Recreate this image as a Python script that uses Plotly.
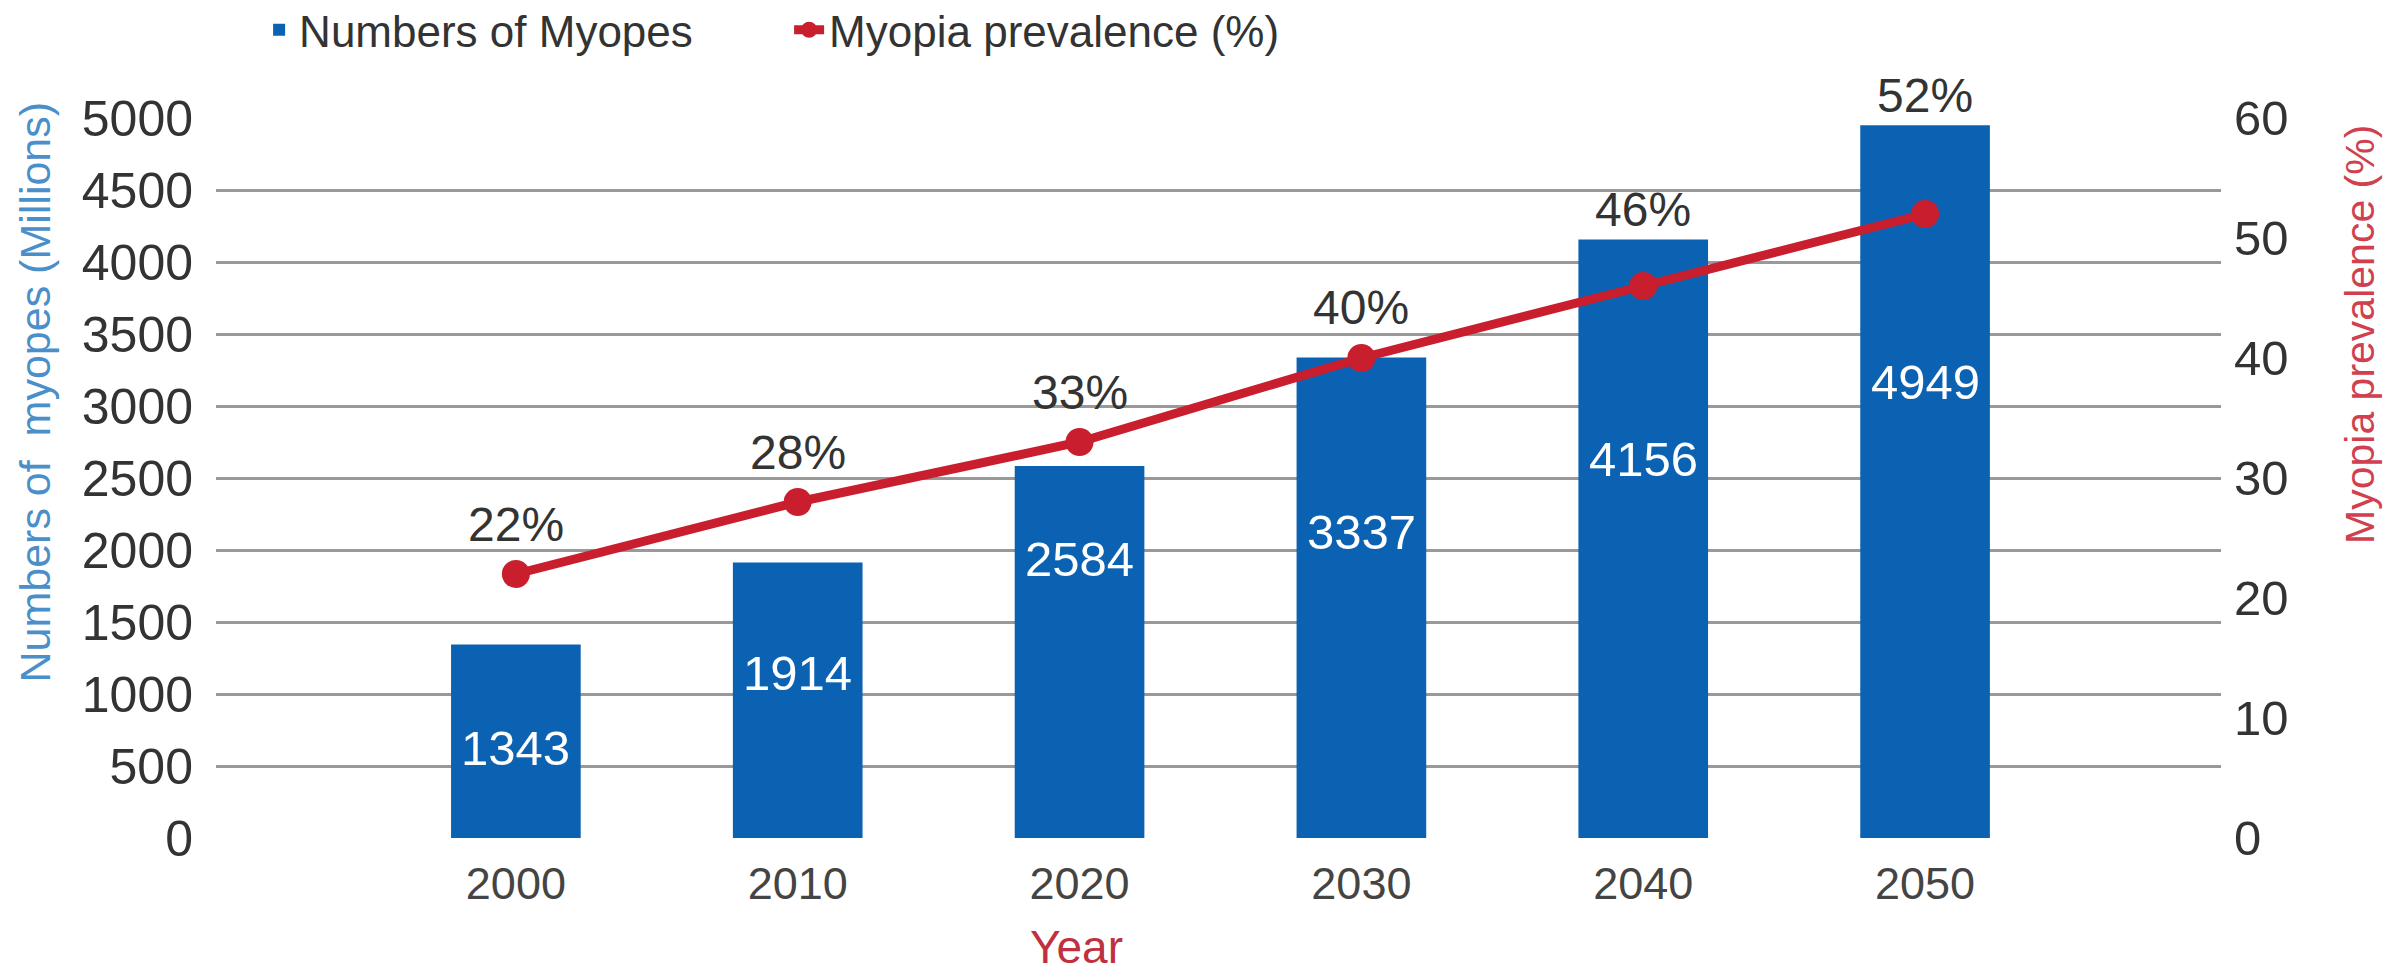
import plotly.graph_objects as go

# ---- data ----
years = ["2000", "2010", "2020", "2030", "2040", "2050"]
myopes_millions = [1343, 1914, 2584, 3337, 4156, 4949]
prevalence_pct = [22, 28, 33, 40, 46, 52]
y_ticks = [0, 500, 1000, 1500, 2000, 2500, 3000, 3500, 4000, 4500, 5000]
y2_ticks = [0, 10, 20, 30, 40, 50, 60]

# label placement inside bars (fraction of bar height)
bar_label_frac = [0.466, 0.60, 0.75, 0.636, 0.633, 0.64]

BLUE = "#0C62B2"
RED = "#C81E2D"
FONT = "Liberation Sans, Arial, Helvetica, sans-serif"

Y_MAX = 5000
Y2_MAX = 60

fig = go.Figure()
fig.add_trace(go.Bar(
    x=years, y=myopes_millions, name="Numbers of Myopes",
    marker=dict(color=BLUE, line=dict(width=0)), width=0.46,
    yaxis="y",
))
fig.add_trace(go.Scatter(
    x=years, y=prevalence_pct, name="Myopia prevalence (%)",
    mode="lines+markers", line=dict(color=RED, width=9),
    marker=dict(color=RED, size=28), yaxis="y2",
))

annotations = []
# values inside bars (category axis: annotation x given by category index)
for i, (v, f) in enumerate(zip(myopes_millions, bar_label_frac)):
    annotations.append(dict(
        x=i, y=v * f, xref="x", yref="y", text=str(v), showarrow=False,
        font=dict(family=FONT, size=49, color="white"),
        xanchor="center", yanchor="middle",
    ))
# percent labels above the higher of marker / bar top
for i, (v, p) in enumerate(zip(myopes_millions, prevalence_pct)):
    marker_in_y = p * Y_MAX / Y2_MAX
    if v > marker_in_y + 100:
        anchor, shift = v, 30
    else:
        anchor, shift = max(v, marker_in_y), 50
    annotations.append(dict(
        x=i, y=anchor, xref="x", yref="y", text=f"{p}%", showarrow=False,
        yshift=shift, font=dict(family=FONT, size=48, color="#333333"),
        xanchor="center", yanchor="middle",
    ))
# axis titles
annotations.append(dict(
    x=-0.0903, y=0.62, xref="paper", yref="paper",
    text="Numbers of\u00a0 myopes (Millions)", textangle=-90, showarrow=False,
    font=dict(family=FONT, size=43, color="#4A8FC9"),
    xanchor="center", yanchor="middle",
))
annotations.append(dict(
    x=1.0693, y=0.70, xref="paper", yref="paper",
    text="Myopia prevalence (%)", textangle=-90, showarrow=False,
    font=dict(family=FONT, size=41, color="#D0404F"),
    xanchor="center", yanchor="middle",
))
annotations.append(dict(
    x=0.4294, y=-0.152, xref="paper", yref="paper",
    text="Year", showarrow=False,
    font=dict(family=FONT, size=46, color="#C0303F"),
    xanchor="center", yanchor="middle",
))

fig.update_layout(
    width=2402, height=980,
    margin=dict(l=216, r=181, t=118, b=142, autoexpand=False),
    paper_bgcolor="white", plot_bgcolor="white",
    font=dict(family=FONT, color="#333333"),
    showlegend=True,
    legend=dict(
        orientation="h", x=0.0215, y=1.122, xanchor="left", yanchor="middle",
        font=dict(family=FONT, size=44, color="#333333"),
        bgcolor="rgba(0,0,0,0)", entrywidth=485, entrywidthmode="pixels",
    ),
    xaxis=dict(
        type="category", range=[-1.064, 6.05], showgrid=False, zeroline=False,
        showline=False, ticks="", tickfont=dict(family=FONT, size=45, color="#444444"),
        ticklabelstandoff=15, automargin=False,
    ),
    yaxis=dict(
        range=[0, Y_MAX], tickvals=y_ticks, showgrid=True, gridcolor="#999999",
        gridwidth=2.5, zeroline=False, showline=False, ticks="",
        tickfont=dict(family=FONT, size=50, color="#333333"),
        ticklabelstandoff=22, automargin=False,
    ),
    yaxis2=dict(
        range=[0, Y2_MAX], tickvals=y2_ticks, overlaying="y", side="right",
        showgrid=False, zeroline=False, showline=False, ticks="",
        tickfont=dict(family=FONT, size=49, color="#333333"),
        ticklabelstandoff=12, automargin=False,
    ),
    annotations=annotations,
)

fig.write_html(
    "out.html",
    config={"displayModeBar": False},
    post_script="document.body.style.margin='0';document.body.style.overflow='hidden';",
)
